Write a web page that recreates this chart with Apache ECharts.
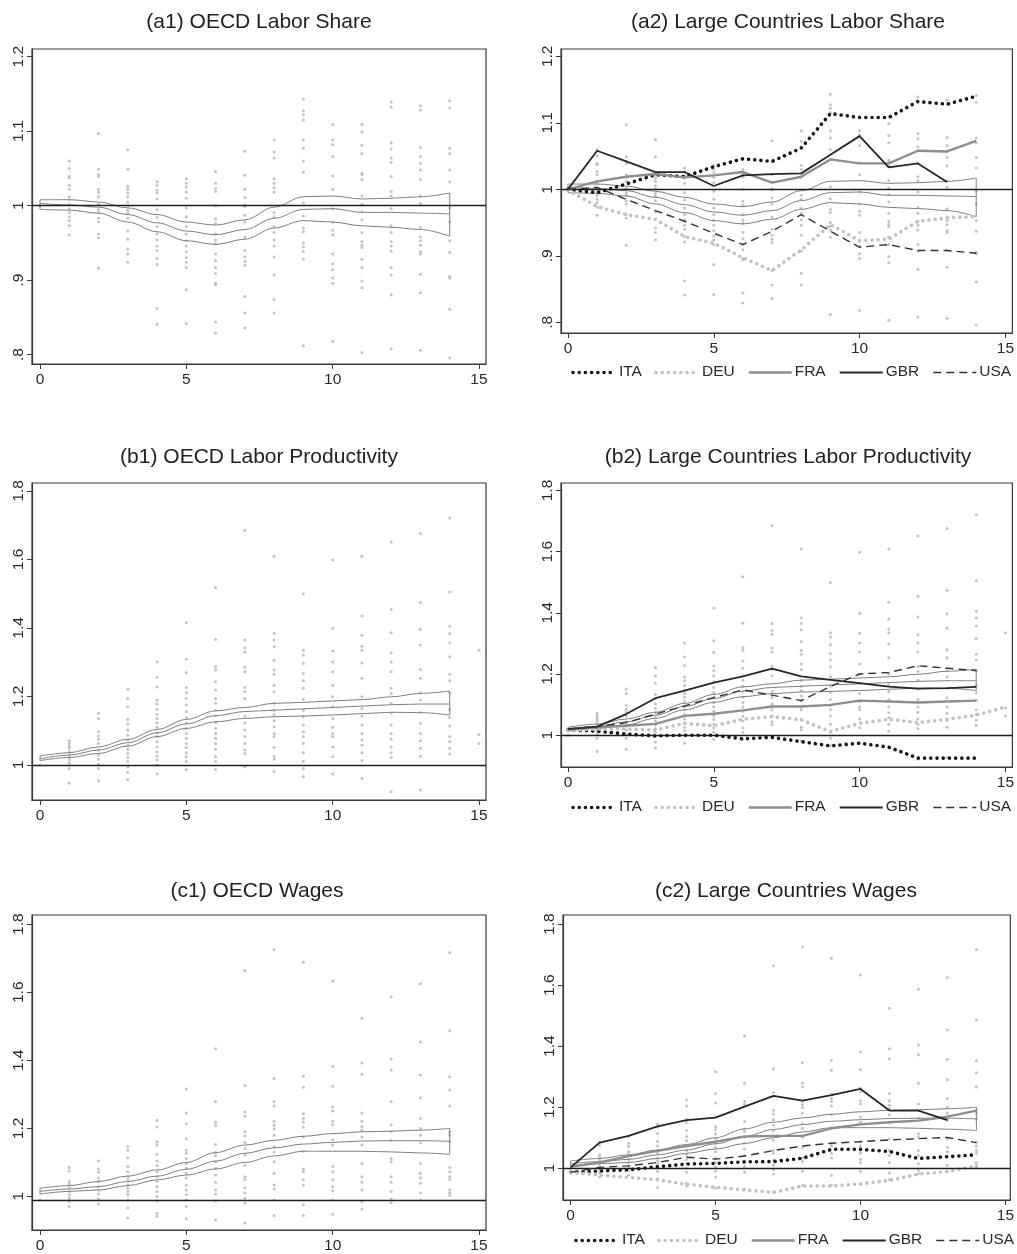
<!DOCTYPE html>
<html>
<head>
<meta charset="utf-8">
<script src="https://cdn.jsdelivr.net/npm/echarts@6/dist/echarts.min.js"></script>
<style>
  html, body { margin: 0; padding: 0; background: #ffffff; }
  #chart { width: 1017px; height: 1254px; }
</style>
</head>
<body>
<div id="chart"></div>
<script>
// ---- Data -------------------------------------------------------------
const years = [0, 1, 2, 3, 4, 5, 6, 7, 8, 9, 10, 11, 12, 13, 14, 15];
const xTicks = [0, 5, 10, 15];
const shareTicks = [0.8, 0.9, 1, 1.1, 1.2];
const growthTicks = [1, 1.2, 1.4, 1.6, 1.8];
const countries = ['ITA', 'DEU', 'FRA', 'GBR', 'USA'];

// OECD country observations, one list per year since the event
const shareDots = [
  [1.0],
  [1.060, 1.050, 1.039, 1.037, 1.027, 1.022, 1.012, 1.008, 1.002, 0.996, 0.991, 0.985, 0.980, 0.973, 0.961],
  [1.097, 1.049, 1.042, 1.039, 1.022, 1.018, 1.012, 1.002, 0.995, 0.991, 0.983, 0.978, 0.962, 0.957, 0.916],
  [1.075, 1.049, 1.026, 1.022, 1.017, 1.012, 1.005, 1.000, 0.994, 0.990, 0.983, 0.966, 0.955, 0.942, 0.935, 0.924],
  [1.032, 1.027, 1.021, 1.017, 1.009, 0.995, 0.984, 0.972, 0.962, 0.954, 0.946, 0.940, 0.929, 0.921, 0.862, 0.841],
  [1.036, 1.030, 1.025, 1.018, 1.010, 0.997, 0.985, 0.972, 0.962, 0.953, 0.946, 0.938, 0.930, 0.924, 0.917, 0.887, 0.842],
  [1.046, 1.030, 1.023, 1.019, 1.000, 0.982, 0.976, 0.962, 0.954, 0.949, 0.935, 0.926, 0.917, 0.909, 0.896, 0.894, 0.844, 0.829],
  [1.073, 1.041, 1.022, 1.011, 1.001, 0.999, 0.987, 0.978, 0.958, 0.940, 0.931, 0.925, 0.920, 0.878, 0.856, 0.836],
  [1.088, 1.072, 1.064, 1.036, 1.030, 1.024, 1.018, 0.991, 0.985, 0.972, 0.964, 0.954, 0.946, 0.931, 0.907, 0.874, 0.856],
  [1.143, 1.127, 1.122, 1.115, 1.088, 1.077, 1.060, 1.045, 1.004, 0.986, 0.970, 0.965, 0.950, 0.945, 0.939, 0.928, 0.812],
  [1.109, 1.088, 1.082, 1.066, 1.040, 1.022, 0.996, 0.978, 0.967, 0.961, 0.935, 0.922, 0.914, 0.903, 0.896, 0.818],
  [1.109, 1.099, 1.081, 1.070, 1.044, 1.042, 1.035, 1.013, 1.002, 0.992, 0.981, 0.964, 0.952, 0.947, 0.944, 0.928, 0.917, 0.899, 0.890, 0.803],
  [1.139, 1.132, 1.084, 1.076, 1.064, 1.058, 1.039, 1.019, 1.013, 0.996, 0.973, 0.964, 0.952, 0.946, 0.939, 0.917, 0.907, 0.880, 0.808],
  [1.134, 1.128, 1.078, 1.066, 1.057, 1.048, 1.035, 1.013, 1.003, 0.971, 0.958, 0.953, 0.947, 0.938, 0.935, 0.908, 0.883, 0.806],
  [1.141, 1.131, 1.077, 1.070, 1.048, 1.032, 0.997, 0.978, 0.953, 0.937, 0.905, 0.903, 0.861, 0.796]
];
const prodDots = [
  [1.0],
  [1.071, 1.063, 1.055, 1.049, 1.039, 1.029, 1.022, 1.015, 1.005, 0.990, 0.947],
  [1.151, 1.136, 1.097, 1.085, 1.075, 1.063, 1.044, 1.029, 1.017, 1.002, 0.990, 0.954],
  [1.221, 1.194, 1.170, 1.133, 1.120, 1.102, 1.087, 1.073, 1.058, 1.046, 1.034, 1.022, 1.010, 0.995, 0.978, 0.958],
  [1.301, 1.256, 1.228, 1.190, 1.178, 1.162, 1.148, 1.136, 1.123, 1.110, 1.094, 1.083, 1.068, 1.053, 1.039, 1.026, 1.015, 1.000, 0.974],
  [1.416, 1.309, 1.270, 1.226, 1.211, 1.194, 1.175, 1.156, 1.139, 1.123, 1.107, 1.092, 1.078, 1.063, 1.051, 1.036, 1.024, 1.010, 0.987],
  [1.518, 1.366, 1.287, 1.277, 1.243, 1.219, 1.194, 1.180, 1.160, 1.143, 1.124, 1.107, 1.092, 1.078, 1.063, 1.046, 1.024, 1.010, 0.987],
  [1.685, 1.365, 1.342, 1.330, 1.285, 1.272, 1.226, 1.214, 1.194, 1.143, 1.123, 1.102, 1.083, 1.063, 1.044, 1.034, 0.995],
  [1.609, 1.384, 1.365, 1.345, 1.306, 1.277, 1.265, 1.233, 1.214, 1.180, 1.160, 1.146, 1.129, 1.112, 1.092, 1.083, 1.052, 1.026, 1.017, 0.981],
  [1.499, 1.335, 1.321, 1.296, 1.267, 1.246, 1.224, 1.191, 1.160, 1.141, 1.117, 1.097, 1.083, 1.063, 1.036, 1.010, 0.990, 0.966],
  [1.598, 1.399, 1.333, 1.301, 1.272, 1.233, 1.199, 1.170, 1.136, 1.110, 1.092, 1.083, 1.053, 1.024, 0.974],
  [1.609, 1.435, 1.379, 1.347, 1.335, 1.298, 1.253, 1.199, 1.165, 1.143, 1.117, 1.092, 1.073, 1.058, 1.036, 1.013, 0.961],
  [1.651, 1.454, 1.386, 1.328, 1.301, 1.272, 1.224, 1.209, 1.180, 1.151, 1.117, 1.092, 1.075, 1.053, 1.036, 1.022, 0.922],
  [1.676, 1.474, 1.396, 1.350, 1.279, 1.253, 1.211, 1.190, 1.153, 1.122, 1.092, 1.071, 1.049, 1.026, 0.927],
  [1.721, 1.505, 1.405, 1.384, 1.357, 1.316, 1.265, 1.246, 1.211, 1.162, 1.139, 1.114, 1.083, 1.068, 1.049, 1.032],
  [1.335, 1.089, 1.063]
];
const wageDots = [
  [0.990],
  [1.085, 1.075, 1.044, 1.036, 1.026, 1.015, 1.005, 0.995, 0.985, 0.971],
  [1.104, 1.081, 1.071, 1.054, 1.044, 1.029, 1.019, 1.007, 0.993, 0.978],
  [1.146, 1.136, 1.114, 1.088, 1.073, 1.058, 1.049, 1.034, 1.024, 1.015, 1.005, 0.990, 0.966, 0.937],
  [1.224, 1.204, 1.161, 1.151, 1.124, 1.104, 1.091, 1.073, 1.058, 1.044, 1.029, 1.015, 1.000, 0.987, 0.951, 0.942],
  [1.316, 1.245, 1.214, 1.170, 1.136, 1.127, 1.112, 1.097, 1.083, 1.068, 1.054, 1.034, 1.019, 1.005, 0.990, 0.971, 0.935],
  [1.434, 1.279, 1.219, 1.209, 1.153, 1.129, 1.120, 1.102, 1.083, 1.063, 1.042, 1.019, 1.007, 0.987, 0.932],
  [1.664, 1.326, 1.248, 1.236, 1.190, 1.178, 1.159, 1.141, 1.122, 1.092, 1.058, 1.049, 1.026, 1.010, 0.995, 0.981, 0.922],
  [1.725, 1.347, 1.279, 1.266, 1.221, 1.209, 1.198, 1.180, 1.146, 1.131, 1.102, 1.068, 1.034, 1.022, 0.990, 0.944],
  [1.688, 1.353, 1.321, 1.243, 1.229, 1.219, 1.204, 1.175, 1.133, 1.081, 1.073, 1.049, 1.034, 0.976, 0.944],
  [1.633, 1.382, 1.324, 1.263, 1.251, 1.221, 1.211, 1.167, 1.151, 1.088, 1.073, 1.049, 1.029, 1.017, 0.990, 0.948],
  [1.524, 1.392, 1.359, 1.245, 1.221, 1.206, 1.195, 1.175, 1.151, 1.097, 1.058, 1.042, 1.019, 0.985, 0.963],
  [1.587, 1.404, 1.372, 1.279, 1.211, 1.190, 1.165, 1.112, 1.102, 1.058, 1.042, 1.015, 0.993, 0.982],
  [1.625, 1.454, 1.357, 1.290, 1.229, 1.200, 1.180, 1.158, 1.097, 1.068, 1.054, 1.039, 1.010, 0.990],
  [1.717, 1.487, 1.352, 1.313, 1.266, 1.190, 1.180, 1.161, 1.085, 1.073, 1.058, 1.049, 1.019, 1.010, 1.003]
];

// Smoothed OECD average with its confidence band (years 0-14)
const shareHi  = [1.008, 1.008, 1.005, 0.997, 0.988, 0.978, 0.974, 0.981, 0.998, 1.012, 1.013, 1.009, 1.010, 1.012, 1.017];
const shareMid = [1.003, 1.001, 0.998, 0.988, 0.977, 0.966, 0.961, 0.968, 0.983, 0.995, 0.996, 0.991, 0.991, 0.990, 0.989];
const shareLo  = [0.995, 0.994, 0.990, 0.978, 0.965, 0.953, 0.948, 0.955, 0.970, 0.980, 0.978, 0.973, 0.971, 0.968, 0.959];
const prodHi   = [1.026, 1.036, 1.053, 1.075, 1.104, 1.133, 1.158, 1.168, 1.180, 1.183, 1.187, 1.191, 1.199, 1.209, 1.216];
const prodMid  = [1.018, 1.029, 1.044, 1.065, 1.094, 1.120, 1.144, 1.156, 1.160, 1.164, 1.168, 1.172, 1.176, 1.178, 1.178];
const prodLo   = [1.013, 1.022, 1.034, 1.055, 1.083, 1.107, 1.126, 1.136, 1.141, 1.143, 1.146, 1.150, 1.154, 1.153, 1.146];
const wageHi   = [1.024, 1.032, 1.044, 1.060, 1.078, 1.100, 1.129, 1.151, 1.165, 1.177, 1.185, 1.190, 1.192, 1.195, 1.200];
const wageMid  = [1.015, 1.022, 1.029, 1.044, 1.060, 1.080, 1.104, 1.127, 1.143, 1.154, 1.159, 1.163, 1.164, 1.164, 1.162];
const wageLo   = [1.007, 1.015, 1.019, 1.032, 1.049, 1.063, 1.081, 1.100, 1.119, 1.133, 1.133, 1.133, 1.131, 1.128, 1.124];

// Large countries, one value per year since the event
const shareITA = [1.000, 0.995, 1.008, 1.022, 1.019, 1.034, 1.046, 1.042, 1.062, 1.114, 1.108, 1.108, 1.132, 1.128, 1.140];
const shareDEU = [0.999, 0.974, 0.962, 0.955, 0.929, 0.919, 0.897, 0.878, 0.909, 0.947, 0.923, 0.925, 0.952, 0.957, 0.959];
const shareFRA = [1.000, 1.012, 1.019, 1.023, 1.018, 1.021, 1.026, 1.010, 1.019, 1.045, 1.039, 1.039, 1.058, 1.057, 1.073];
const shareGBR = [1.000, 1.058, 1.042, 1.026, 1.026, 1.005, 1.021, 1.023, 1.024, 1.052, 1.080, 1.033, 1.039, 1.011];
const shareUSA = [1.000, 1.003, 0.985, 0.968, 0.952, 0.934, 0.917, 0.937, 0.962, 0.937, 0.913, 0.917, 0.908, 0.908, 0.904];

const prodITA = [1.018, 1.013, 1.004, 0.998, 1.000, 1.000, 0.988, 0.993, 0.979, 0.965, 0.974, 0.961, 0.925, 0.925, 0.925];
const prodDEU = [1.017, 1.020, 1.020, 1.017, 1.039, 1.031, 1.052, 1.061, 1.050, 1.012, 1.039, 1.052, 1.041, 1.052, 1.066, 1.092];
const prodFRA = [1.020, 1.026, 1.031, 1.037, 1.063, 1.070, 1.081, 1.094, 1.094, 1.099, 1.113, 1.110, 1.107, 1.110, 1.113];
const prodGBR = [1.020, 1.028, 1.069, 1.121, 1.146, 1.172, 1.192, 1.218, 1.192, 1.181, 1.170, 1.159, 1.152, 1.154, 1.158];
const prodUSA = [1.020, 1.028, 1.041, 1.069, 1.096, 1.123, 1.148, 1.131, 1.113, 1.159, 1.200, 1.205, 1.227, 1.219, 1.211];

const wageITA = [0.986, 0.991, 0.995, 1.005, 1.014, 1.016, 1.021, 1.022, 1.033, 1.062, 1.062, 1.055, 1.032, 1.038, 1.044];
const wageDEU = [0.986, 0.978, 0.970, 0.962, 0.948, 0.938, 0.929, 0.921, 0.942, 0.942, 0.949, 0.960, 0.981, 0.989, 1.008];
const wageFRA = [1.005, 1.019, 1.040, 1.057, 1.073, 1.087, 1.104, 1.106, 1.106, 1.131, 1.144, 1.151, 1.156, 1.169, 1.189];
const wageGBR = [1.003, 1.084, 1.106, 1.137, 1.158, 1.166, 1.202, 1.237, 1.222, 1.240, 1.260, 1.189, 1.189, 1.158];
const wageUSA = [0.987, 1.003, 1.008, 1.019, 1.036, 1.030, 1.040, 1.058, 1.073, 1.082, 1.087, 1.093, 1.097, 1.101, 1.084];

// ---- Panels -----------------------------------------------------------
const FONT = '"Liberation Sans", Arial, Helvetica, sans-serif';

const panels = [
  { title: '(a1) OECD Labor Share', cx: 259, ty: 22,
    grid: { left: 32, top: 49, width: 454, height: 315 },
    x: [-0.273, 15.24], y: [0.7875, 1.2103], yTicks: shareTicks, ref: 1,
    dots: shareDots, band: [shareHi, shareMid, shareLo], lines: null },
  { title: '(a2) Large Countries Labor Share', cx: 788, ty: 22,
    grid: { left: 561, top: 49, width: 455, height: 284 },
    x: [-0.238, 15.24], y: [0.784, 1.211], yTicks: shareTicks, ref: 1,
    dots: shareDots, band: [shareHi, shareMid, shareLo],
    lines: [shareITA, shareDEU, shareFRA, shareGBR, shareUSA], legendY: 372, legendX: 573 },
  { title: '(b1) OECD Labor Productivity', cx: 259, ty: 457,
    grid: { left: 32, top: 483, width: 454, height: 317 },
    x: [-0.273, 15.24], y: [0.898, 1.823], yTicks: growthTicks, ref: 1,
    dots: prodDots, band: [prodHi, prodMid, prodLo], lines: null },
  { title: '(b2) Large Countries Labor Productivity', cx: 788, ty: 457,
    grid: { left: 561, top: 483, width: 455, height: 284 },
    x: [-0.238, 15.24], y: [0.896, 1.8245], yTicks: growthTicks, ref: 1,
    dots: prodDots, band: [prodHi, prodMid, prodLo],
    lines: [prodITA, prodDEU, prodFRA, prodGBR, prodUSA], legendY: 807, legendX: 573 },
  { title: '(c1) OECD Wages', cx: 257, ty: 891,
    grid: { left: 32, top: 915, width: 454, height: 317 },
    x: [-0.273, 15.24], y: [0.9016, 1.827], yTicks: growthTicks, ref: 0.99,
    dots: wageDots, band: [wageHi, wageMid, wageLo], lines: null },
  { title: '(c2) Large Countries Wages', cx: 786, ty: 891,
    grid: { left: 563, top: 915, width: 454, height: 285 },
    x: [-0.262, 15.17], y: [0.896, 1.830], yTicks: growthTicks, ref: 1,
    dots: wageDots, band: [wageHi, wageMid, wageLo],
    lines: [wageITA, wageDEU, wageFRA, wageGBR, wageUSA], legendY: 1240, legendX: 576 }
];

// Line look for each country (Stata-like monochrome scheme)
const countryStyle = {
  ITA: { color: '#151515', width: 3.6, type: [0.01, 6.2], cap: 'round' },
  DEU: { color: '#c2c2c2', width: 3.6, type: [0.01, 6.2], cap: 'round' },
  FRA: { color: '#8e8e8e', width: 2.4, type: 'solid', cap: 'butt' },
  GBR: { color: '#262626', width: 1.8, type: 'solid', cap: 'butt' },
  USA: { color: '#333333', width: 1.4, type: [8, 5], cap: 'butt' }
};

function fmtTick(v) {
  const s = String(Number(v.toFixed(2)));
  return s.startsWith('0.') ? s.slice(1) : s;
}

// text width helper for the key below the country panels
const measureCtx = document.createElement('canvas').getContext('2d');
const LEGEND_FONT_SIZE = 15.5;
measureCtx.font = LEGEND_FONT_SIZE + 'px ' + FONT;

function legendGraphics(x0, yMid) {
  const out = [];
  const sampleW = 43, textGap = 3, itemGap = 14;
  let x = x0;
  countries.forEach(name => {
    const st = countryStyle[name];
    out.push({
      type: 'line', silent: true,
      shape: { x1: x, y1: yMid + 0.5, x2: x + sampleW, y2: yMid + 0.5 },
      style: {
        stroke: st.color, lineWidth: st.width, lineCap: st.cap,
        lineDash: Array.isArray(st.type) ? st.type : null
      }
    });
    const tx = x + sampleW + textGap;
    out.push({
      type: 'text', silent: true, x: tx, y: yMid,
      style: { text: name, fontSize: LEGEND_FONT_SIZE, fontFamily: FONT, fill: '#2a2a2a', align: 'left', verticalAlign: 'middle' }
    });
    x = tx + measureCtx.measureText(name).width + itemGap;
  });
  return out;
}

const grids = [], xAxes = [], yAxes = [], series = [], graphics = [];

panels.forEach((p, i) => {
  grids.push(Object.assign({ show: true, borderColor: '#3a3a3a', borderWidth: 1.2, backgroundColor: '#ffffff', containLabel: false }, p.grid));

  xAxes.push({
    gridIndex: i, type: 'value', min: p.x[0], max: p.x[1],
    splitLine: { show: false },
    axisLine: { show: true, onZero: false, lineStyle: { color: '#3a3a3a', width: 1.2 } },
    axisTick: { show: true, customValues: xTicks, length: 5, lineStyle: { color: '#3a3a3a', width: 1 } },
    axisLabel: { show: true, customValues: xTicks, margin: 8, fontSize: 15.5, color: '#2a2a2a', fontFamily: FONT }
  });
  yAxes.push({
    gridIndex: i, type: 'value', min: p.y[0], max: p.y[1],
    splitLine: { show: false },
    axisLine: { show: true, onZero: false, lineStyle: { color: '#3a3a3a', width: 1.2 } },
    axisTick: { show: true, customValues: p.yTicks, length: 5, lineStyle: { color: '#3a3a3a', width: 1 } },
    axisLabel: { show: true, customValues: p.yTicks, rotate: 90, margin: 5, fontSize: 15.5, color: '#2a2a2a', fontFamily: FONT,
                 formatter: fmtTick }
  });

  // scattered OECD observations
  const pts = [];
  p.dots.forEach((vals, k) => vals.forEach(v => pts.push([years[k], v])));
  series.push({
    type: 'scatter', xAxisIndex: i, yAxisIndex: i, data: pts,
    symbol: 'circle', symbolSize: 3, silent: true, z: 1,
    itemStyle: { color: '#b4b4b4' },
    markLine: {
      silent: true, symbol: 'none', label: { show: false },
      lineStyle: { color: '#1e1e1e', width: 1.3, type: 'solid' },
      data: [{ yAxis: p.ref }]
    }
  });

  // smoothed average with confidence band
  const bandColor = '#808080';
  p.band.forEach(arr => {
    series.push({
      type: 'line', xAxisIndex: i, yAxisIndex: i, z: 2,
      data: arr.map((v, k) => [years[k], v]),
      symbol: 'none', smooth: 0.35, smoothMonotone: 'x', silent: true,
      lineStyle: { color: bandColor, width: 1 }
    });
  });
  const last = p.band[0].length - 1;
  [0, last].forEach(k => {
    series.push({
      type: 'line', xAxisIndex: i, yAxisIndex: i, z: 2,
      data: [[years[k], p.band[2][k]], [years[k], p.band[0][k]]],
      symbol: 'none', silent: true,
      lineStyle: { color: bandColor, width: 1 }
    });
  });

  // individual countries
  if (p.lines) {
    p.lines.forEach((arr, c) => {
      const name = countries[c];
      const st = countryStyle[name];
      series.push({
        name: name, type: 'line', xAxisIndex: i, yAxisIndex: i, z: 3 + c,
        data: arr.map((v, k) => [years[k], v]),
        symbol: 'none', showSymbol: false, silent: true,
        lineStyle: { color: st.color, width: st.width, type: st.type, cap: st.cap },
        itemStyle: { color: st.color }
      });
    });
    legendGraphics(p.legendX, p.legendY).forEach(g => graphics.push(g));
  }

  graphics.push({
    type: 'text', x: p.cx, y: p.ty, silent: true,
    style: { text: p.title, fontSize: 21, fontFamily: FONT, fill: '#222222', align: 'center', verticalAlign: 'middle' }
  });
});

const chart = echarts.init(document.getElementById('chart'), null, { renderer: 'canvas' });
chart.setOption({
  backgroundColor: '#ffffff',
  animation: false,
  grid: grids,
  xAxis: xAxes,
  yAxis: yAxes,
  series: series,
  graphic: graphics
});
</script>
</body>
</html>
